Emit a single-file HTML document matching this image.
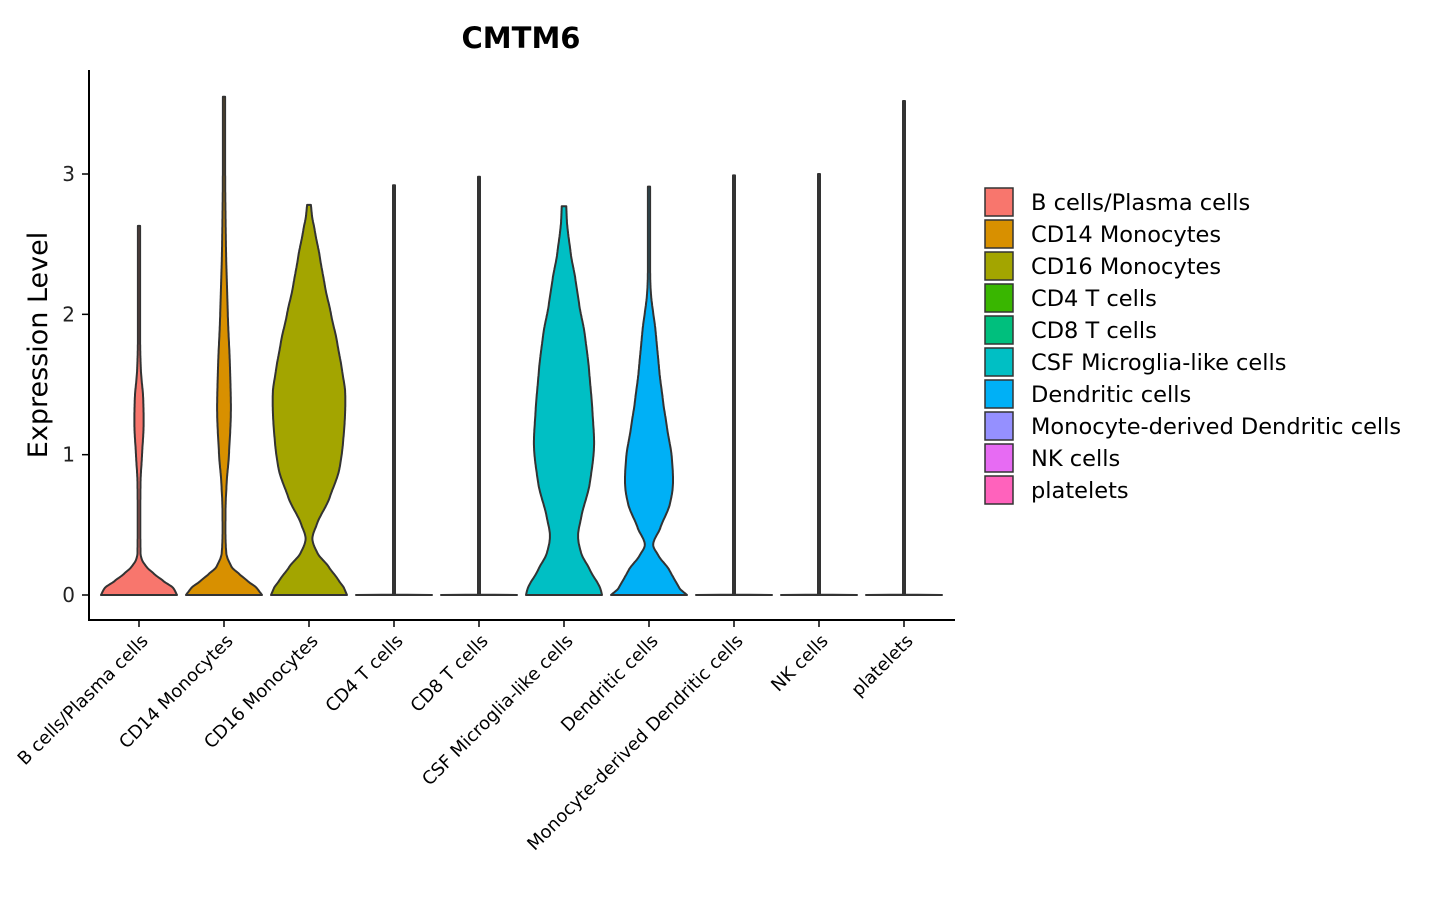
<!DOCTYPE html>
<html><head><meta charset="utf-8"><style>
html,body{margin:0;padding:0;background:#fff;}
svg{display:block;font-family:"DejaVu Sans","Liberation Sans",sans-serif;}
</style></head><body>
<svg id="chart" width="1440" height="900" viewBox="0 0 1440 900">
<text x="521" y="48" text-anchor="middle" font-size="29" font-weight="bold">CMTM6</text>
<text transform="translate(47,345) rotate(-90)" text-anchor="middle" font-size="27">Expression Level</text>
<g id="plot"></g>
<g id="legend"></g>
</svg>
<script>
const categories=["B cells/Plasma cells","CD14 Monocytes","CD16 Monocytes","CD4 T cells","CD8 T cells","CSF Microglia-like cells","Dendritic cells","Monocyte-derived Dendritic cells","NK cells","platelets"];
const colors=["#F8766D","#D89000","#A3A500","#39B600","#00BF7D","#00BFC4","#00B0F6","#9590FF","#E76BF3","#FF62BC"];
const maxValues=[2.63,3.55,2.78,2.92,2.98,2.77,2.91,2.99,3.0,3.52];
// density profile: [expression, relative half-width 0..1]
const profB=[[0,1],[0.05,0.9],[0.1,0.64],[0.15,0.4],[0.2,0.2],[0.25,0.08],[0.3,0.04],[0.8,0.04],[1.0,0.08],[1.2,0.12],[1.4,0.11],[1.6,0.05],[1.8,0.03],[2.63,0.03]];
const profCD14=[[0,1],[0.05,0.86],[0.1,0.62],[0.15,0.4],[0.2,0.2],[0.3,0.06],[0.6,0.04],[0.8,0.07],[1.0,0.13],[1.3,0.18],[1.6,0.16],[2.0,0.1],[2.5,0.05],[3.0,0.03],[3.55,0.03]];
const profCD16=[[0,1],[0.05,0.92],[0.1,0.79],[0.2,0.52],[0.3,0.22],[0.4,0.09],[0.5,0.2],[0.7,0.55],[0.9,0.8],[1.1,0.9],[1.3,0.95],[1.45,0.95],[1.6,0.87],[1.8,0.74],[2.0,0.58],[2.2,0.42],[2.4,0.29],[2.6,0.15],[2.7,0.08],[2.78,0.05]];
const profFlat=[[0,1],[0.003,0.02],[1,0.02]];
const profCSF=[[0,1],[0.05,0.95],[0.18,0.68],[0.3,0.45],[0.42,0.37],[0.55,0.45],[0.8,0.68],[1.06,0.79],[1.3,0.75],[1.6,0.66],[1.85,0.55],[2.07,0.4],[2.25,0.3],[2.43,0.18],[2.65,0.08],[2.77,0.06]];
const profDC=[[0,1],[0.05,0.8],[0.18,0.53],[0.28,0.25],[0.36,0.11],[0.48,0.3],[0.65,0.55],[0.79,0.63],[0.98,0.6],[1.2,0.47],[1.38,0.37],[1.6,0.27],[1.86,0.18],[2.15,0.05],[2.3,0.03],[2.91,0.03]];
const profiles=[profB,profCD14,profCD16,profFlat,profFlat,profCSF,profDC,profFlat,profFlat,profFlat];
const yTicks=[0,1,2,3];

const NS="http://www.w3.org/2000/svg";
const y0=595,yUnit=140.33,x0=139,xStep=85,maxHalf=38;
const yScale=v=>y0-v*yUnit;
const xScale=i=>x0+i*xStep;
function mk(tag,attrs,parent){const e=document.createElementNS(NS,tag);for(const k in attrs)e.setAttribute(k,attrs[k]);parent.appendChild(e);return e;}
const plot=document.getElementById('plot');
function widthAt(prof,v){
  const n=prof.length;
  for(let j=0;j<n-1;j++){const a=prof[j],b=prof[j+1];
    if(v>=a[0]&&v<=b[0]){
      const h=(b[0]-a[0])||1,t=(v-a[0])/h;
      const pm=j>0?prof[j-1]:a,pn=j+2<n?prof[j+2]:b;
      const m0=j>0?(b[1]-pm[1])/(b[0]-pm[0])*h*0.8:(b[1]-a[1]);
      const m1=j+2<n?(pn[1]-a[1])/(pn[0]-a[0])*h*0.8:(b[1]-a[1]);
      const t2=t*t,t3=t2*t;
      return (2*t3-3*t2+1)*a[1]+(t3-2*t2+t)*m0+(-2*t3+3*t2)*b[1]+(t3-t2)*m1;}}
  return prof[n-1][1];
}
categories.forEach((c,i)=>{
  const cx=xScale(i),prof=profiles[i],mx=maxValues[i];
  const vals=new Set();for(let k=0;k<=300;k++)vals.add(mx*k/300);prof.forEach(p=>{if(p[0]<=mx)vals.add(p[0]);});
  const vs=[...vals].sort((a,b)=>a-b);
  const right=[],left=[];
  vs.forEach(v=>{let w=widthAt(prof,v)*maxHalf;if(w<1)w=1;
    right.push([cx+w,yScale(v)]);left.unshift([cx-w,yScale(v)]);});
  const pts=right.concat(left);
  const d="M"+pts.map(p=>p[0].toFixed(1)+","+p[1].toFixed(1)).join("L")+"Z";
  const p=mk('path',{d:d,fill:colors[i],stroke:"#333",'stroke-width':2,'stroke-linejoin':'round'},plot);
  
  
  const t=mk('line',{x1:cx,x2:cx,y1:620,y2:627,stroke:"#000",'stroke-width':1.5},plot);
  
  
  const lb=mk('text',{transform:`translate(${cx+10},642) rotate(-45)`,'text-anchor':'end','font-size':18},plot);
  lb.textContent=c;
  
  
});
yTicks.forEach(v=>{
  const t=mk('line',{x1:82,x2:89,y1:yScale(v),y2:yScale(v),stroke:"#000",'stroke-width':1.5},plot);
  
  
  const lb=mk('text',{x:75,y:yScale(v)+7,'text-anchor':'end','font-size':20,fill:'#222'},plot);
  lb.textContent=v;
  
  
});
const ya=mk('line',{x1:89,x2:89,y1:70,y2:620,stroke:"#000",'stroke-width':2},plot);


const xa=mk('line',{x1:88,x2:955,y1:620,y2:620,stroke:"#000",'stroke-width':2},plot);


const lg=document.getElementById('legend');
categories.forEach((c,i)=>{
  const y=188+32*i;
  const r=mk('rect',{x:985,y:y,width:28,height:28,fill:colors[i],stroke:"#333",'stroke-width':1.5},lg);
  
  
  const t=mk('text',{x:1031,y:y+22,'font-size':22.5},lg);
  t.textContent=c;
  
  
});
</script>
</body></html>
